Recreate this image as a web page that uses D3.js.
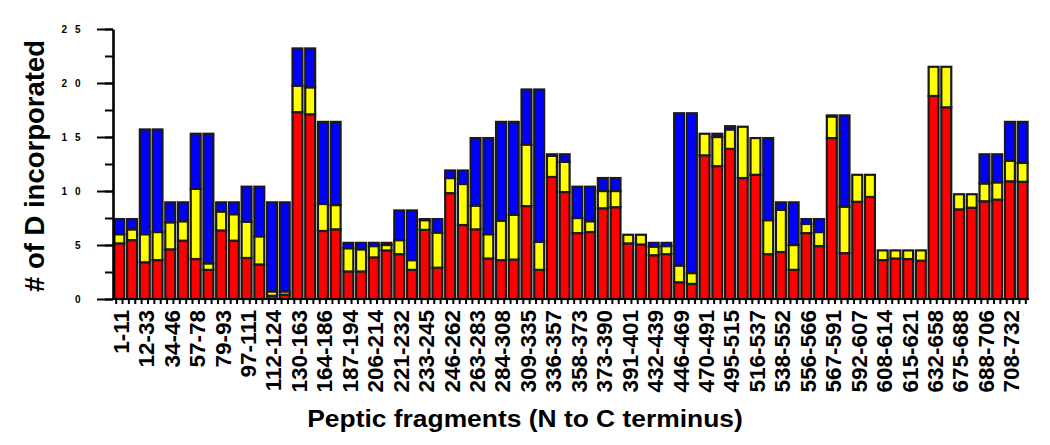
<!DOCTYPE html>
<html>
<head>
<meta charset="utf-8">
<script src="https://cdn.jsdelivr.net/npm/d3@7"></script>
<style>
body { margin: 0; background: #fff; }
svg { display: block; font-family: "Liberation Sans", Arial, sans-serif; font-weight: bold; }
</style>
</head>
<body>
<div id="chart"></div>
<script>
// one label per fragment, two bars per fragment
const fragments = ["1-11", "12-33", "34-46", "57-78", "79-93", "97-111", "112-124", "130-163", "164-186",
	"187-194", "206-214", "221-232", "233-245", "246-262", "263-283", "284-308", "309-335", "336-357",
	"358-373", "373-390", "391-401", "432-439", "446-469", "470-491", "495-515", "516-537", "538-552",
	"556-566", "567-591", "592-607", "608-614", "615-621", "632-658", "675-688", "688-706", "708-732"];

// segment heights per bar (72 bars), bottom to top
const red = [5.15, 5.45, 3.4, 3.6, 4.6, 5.4, 3.7, 2.7, 6.35, 5.4, 3.8, 3.2, 0.3, 0.4, 17.3, 17.1, 6.3, 6.45,
	2.55, 2.55, 3.85, 4.5, 4.15, 2.7, 6.4, 2.9, 9.8, 6.85, 6.45, 3.75, 3.6, 3.65, 8.6, 2.7, 11.3, 9.9,
	6.1, 6.2, 8.4, 8.5, 5.15, 5.05, 4.05, 4.15, 1.55, 1.4, 13.3, 12.3, 13.9, 11.2, 11.5, 4.15, 4.35, 2.7,
	6.1, 4.9, 14.9, 4.25, 9.0, 9.45, 3.6, 3.75, 3.7, 3.55, 18.8, 17.75, 8.3, 8.45, 9.05, 9.2, 10.9, 10.85];
const yellow = [0.85, 1.0, 2.6, 2.6, 2.5, 1.8, 6.5, 0.6, 1.75, 2.45, 3.35, 2.6, 0.4, 0.3, 2.45, 2.5, 2.5, 2.25,
	2.15, 2.05, 1.05, 0.5, 1.3, 0.9, 0.9, 3.25, 1.4, 3.8, 2.2, 2.25, 3.65, 4.15, 5.7, 2.6, 1.95, 2.8,
	1.4, 1.0, 1.6, 1.5, 0.8, 0.9, 0.8, 0.75, 1.55, 1.0, 2.0, 2.7, 1.8, 4.75, 3.4, 3.15, 3.9, 2.3,
	0.85, 1.3, 2.0, 4.3, 2.5, 2.05, 0.9, 0.75, 0.8, 0.95, 2.7, 3.75, 1.4, 1.25, 1.65, 1.6, 1.9, 1.75];
const blue = [1.4, 0.95, 9.7, 9.5, 1.85, 1.75, 5.1, 12.0, 0.85, 1.1, 3.25, 4.6, 8.25, 8.25, 3.45, 3.6, 7.6, 7.7,
	0.5, 0.6, 0.3, 0.2, 2.75, 4.6, 0.1, 1.25, 0.7, 1.25, 6.25, 8.9, 9.15, 8.6, 5.1, 14.1, 0.15, 0.7,
	2.9, 3.2, 1.2, 1.2, 0, 0, 0.35, 0.3, 14.1, 14.8, 0, 0.3, 0.3, 0, 0, 7.6, 0.7, 3.95,
	0.45, 1.2, 0.1, 8.45, 0, 0, 0, 0, 0, 0, 0, 0, 0, 0, 2.7, 2.6, 3.6, 3.8];

const yTicks = [0, 5, 10, 15, 20, 25];
const yMinorTicks = [0, 2.5, 5, 7.5, 10, 12.5, 15, 17.5, 20, 22.5, 25];
const yTitle = "# of D incorporated";
const xTitle = "Peptic fragments (N to C terminus)";

const W = 1050, H = 445;
const plot = { left: 113, right: 1029, top: 29, bottom: 299 };

const svg = d3.select("#chart").append("svg")
	.attr("width", W)
	.attr("height", H);

const rows = red.map((r, i) => ({ i: i, red: r, yellow: yellow[i], blue: blue[i] }));
const stack = d3.stack().keys(["red", "yellow", "blue"]);
const series = stack(rows);
const colors = { red: "#ff0000", yellow: "#ffff00", blue: "#0000ff" };

const x = d3.scaleBand()
	.domain(d3.range(rows.length))
	.range([plot.left, plot.right])
	.padding(0);

const y = d3.scaleLinear()
	.domain([0, 25])
	.range([plot.bottom, plot.top]);

// bars
svg.append("g")
	.selectAll("g")
	.data(series)
	.join("g")
	.attr("fill", d => colors[d.key])
	.selectAll("rect")
	.data(d => d.filter(s => s[1] - s[0] > 0))
	.join("rect")
	.attr("x", d => x(d.data.i) + 1.4)
	.attr("y", d => y(d[1]))
	.attr("width", x.bandwidth() - 2.8)
	.attr("height", d => y(d[0]) - y(d[1]))
	.attr("stroke", "#1a1a1a")
	.attr("stroke-width", 2.2);

// faint dotted line under the axis
svg.append("line")
	.attr("x1", plot.left).attr("x2", plot.right)
	.attr("y1", 315).attr("y2", 315)
	.attr("stroke", "#c8c8c8")
	.attr("stroke-dasharray", "1,12");

// y axis: minor ticks, then major ticks with labels
svg.append("g")
	.attr("transform", `translate(${plot.left},0)`)
	.call(d3.axisLeft(y).tickValues(yMinorTicks).tickSize(8).tickSizeOuter(0).tickFormat(""))
	.call(g => g.select(".domain").remove())
	.call(g => g.selectAll("line").attr("stroke-width", 2));

svg.append("g")
	.attr("transform", `translate(${plot.left},0)`)
	.call(d3.axisLeft(y).tickValues(yTicks).tickSize(16).tickSizeOuter(0).tickPadding(14)
		.tickFormat(d => String(d).split("").join(" ")))
	.call(g => g.select(".domain").attr("stroke-width", 2.6))
	.call(g => g.selectAll("line").attr("stroke-width", 2))
	.call(g => g.selectAll("text")
		.attr("font-family", "'Liberation Sans', Arial, sans-serif")
		.attr("font-weight", "bold")
		.attr("font-size", 10)
		.attr("letter-spacing", 2.5)
		.attr("fill", "#000"));

// x axis line and the little ticks at each half bar
svg.append("line")
	.attr("x1", plot.left).attr("x2", plot.right)
	.attr("y1", plot.bottom).attr("y2", plot.bottom)
	.attr("stroke", "#000")
	.attr("stroke-width", 2);

const halfTicks = d3.range(rows.length * 2).map(k => x(Math.floor(k / 2)) + (k % 2) * x.bandwidth() / 2 + x.bandwidth() / 4);
svg.append("g")
	.selectAll("line")
	.data(halfTicks)
	.join("line")
	.attr("x1", d => d).attr("x2", d => d)
	.attr("y1", plot.bottom).attr("y2", plot.bottom + 5)
	.attr("stroke", "#000")
	.attr("stroke-width", 2);

// fragment labels, one per pair of bars
svg.append("g")
	.selectAll("text")
	.data(fragments)
	.join("text")
	.attr("transform", (d, i) => `translate(${x(i * 2) + x.bandwidth() + 3},310) rotate(-90) scale(1,0.94)`)
	.attr("text-anchor", "end")
	.attr("font-size", 22.5)
	.text(d => d);

// titles
svg.append("text")
	.attr("transform", `translate(44,166) rotate(-90)`)
	.attr("text-anchor", "middle")
	.attr("font-size", 27.5)
	.text(yTitle);

svg.append("text")
	.attr("transform", `translate(525,427) scale(1.1,1)`)
	.attr("text-anchor", "middle")
	.attr("font-size", 24)
	.text(xTitle);
</script>
</body>
</html>
